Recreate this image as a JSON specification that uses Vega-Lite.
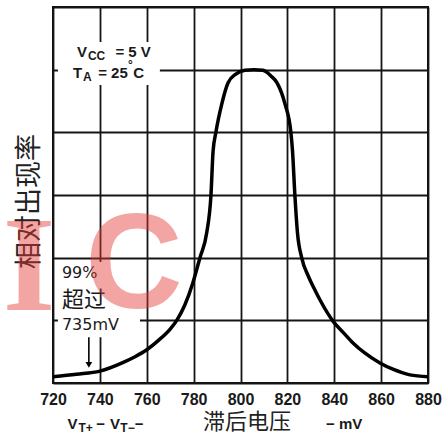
{
  "$schema": "https://vega.github.io/schema/vega-lite/v6.json",
  "width": 375,
  "height": 376,
  "autosize": "none",
  "padding": {"left": 53, "top": 7, "right": 18, "bottom": 53},
  "background": "white",
  "config": {
    "view": {"stroke": "#111111", "strokeWidth": 2},
    "axis": {"grid": true, "gridColor": "#151515", "gridWidth": 1.8, "gridOpacity": 1, "domain": false, "ticks": false}
  },
  "datasets": {
    "curve": [
      {"x": 720, "y": 0.10}, {"x": 730, "y": 0.14}, {"x": 740, "y": 0.19}, {"x": 750, "y": 0.33},
      {"x": 755, "y": 0.42}, {"x": 760, "y": 0.53}, {"x": 765, "y": 0.68}, {"x": 770, "y": 0.86},
      {"x": 772.8, "y": 1.0}, {"x": 776.2, "y": 1.24}, {"x": 779.7, "y": 1.6}, {"x": 782.7, "y": 2.0},
      {"x": 785.6, "y": 2.4}, {"x": 787.4, "y": 3.0}, {"x": 788.3, "y": 3.7}, {"x": 789.5, "y": 4.0},
      {"x": 792, "y": 4.45}, {"x": 794.7, "y": 4.79}, {"x": 798, "y": 4.93}, {"x": 801.9, "y": 4.99},
      {"x": 805.7, "y": 5.0}, {"x": 809.6, "y": 4.99}, {"x": 813, "y": 4.9}, {"x": 815.6, "y": 4.79},
      {"x": 819, "y": 4.45}, {"x": 821.5, "y": 4.0}, {"x": 822.2, "y": 3.7}, {"x": 823.2, "y": 3.0},
      {"x": 824.3, "y": 2.4}, {"x": 826.1, "y": 2.0}, {"x": 829, "y": 1.7}, {"x": 831.8, "y": 1.48},
      {"x": 834, "y": 1.32}, {"x": 839.6, "y": 0.98}, {"x": 844, "y": 0.8}, {"x": 848, "y": 0.64},
      {"x": 853, "y": 0.48}, {"x": 859.5, "y": 0.32}, {"x": 865, "y": 0.22}, {"x": 872.3, "y": 0.13},
      {"x": 880, "y": 0.10}
    ],
    "boxes": [
      {"x": 722.1, "x2": 765.6, "y": 4.755, "y2": 5.44},
      {"x": 722.1, "x2": 757.1, "y": 0.73, "y2": 1.93}
    ],
    "arrow": [{"x": 735.3, "y": 0.73, "y2": 0.3}],
    "arrowhead": [{"x": 735.3, "y": 0.29}],
    "mainText": [
      {"x": 728.3, "y": -0.66, "t": "V"}, {"x": 740.3, "y": -0.66, "t": "−"},
      {"x": 746.5, "y": -0.66, "t": "V"}, {"x": 756.7, "y": -0.66, "t": "−"},
      {"x": 844.2, "y": -0.66, "t": "− mV"},
      {"x": 732.4, "y": 5.28, "t": "V"}, {"x": 754.2, "y": 5.28, "t": "= 5 V"},
      {"x": 730.5, "y": 4.95, "t": "T"}, {"x": 745.6, "y": 4.95, "t": "= 25"},
      {"x": 756.6, "y": 4.95, "t": "C"}
    ],
    "subText": [
      {"x": 733.9, "y": -0.72, "t": "T+"}, {"x": 751.8, "y": -0.72, "t": "T−"},
      {"x": 738.6, "y": 5.22, "t": "CC"}, {"x": 734.6, "y": 4.89, "t": "A"},
      {"x": 753.0, "y": 5.07, "t": "°"}
    ],
    "cnTitle": [{"x": 802.8, "y": -0.62, "t": "滞后电压"}],
    "note": [
      {"x": 723.8, "y": 1.763, "t": "99%"},
      {"x": 723.8, "y": 0.933, "t": "735mV"}
    ],
    "noteCn": [{"x": 723.8, "y": 1.324, "t": "超过"}],
    "markI": [{"x": 709.8, "y": 1.16, "t": "I"}],
    "markC": [{"x": 754.6, "y": 1.2, "t": "C"}]
  },
  "encoding": {
    "x": {
      "field": "x", "type": "quantitative",
      "scale": {"domain": [720, 880], "nice": false, "zero": false},
      "axis": {
        "values": [720, 740, 760, 780, 800, 820, 840, 860, 880],
        "title": null, "labelFont": "Liberation Sans", "labelFontWeight": "bold",
        "labelFontSize": 16, "labelColor": "#1a1a1a", "labelPadding": 8,
        "labelFlush": false, "labelOverlap": false
      }
    },
    "y": {
      "field": "y", "type": "quantitative",
      "scale": {"domain": [0, 6], "nice": false, "zero": false},
      "axis": {
        "values": [0, 1, 2, 3, 4, 5, 6], "labels": false,
        "title": "相对出现率", "titleFont": "Noto Sans CJK SC", "titleFontSize": 27,
        "titleFontWeight": "normal", "titleColor": "#222222",
        "titleX": -24, "titleY": 194, "titleAngle": -90,
        "titleAlign": "center", "titleBaseline": "middle"
      }
    }
  },
  "layer": [
    {
      "data": {"name": "boxes"},
      "mark": {"type": "rect", "fill": "white", "stroke": null},
      "encoding": {"x2": {"field": "x2"}, "y2": {"field": "y2"}}
    },
    {
      "data": {"name": "curve"},
      "mark": {"type": "line", "color": "#000000", "strokeWidth": 3.5, "interpolate": "monotone"}
    },
    {
      "data": {"name": "arrow"},
      "mark": {"type": "rule", "color": "#000000", "strokeWidth": 1.6},
      "encoding": {"y2": {"field": "y2"}}
    },
    {
      "data": {"name": "arrowhead"},
      "mark": {"type": "point", "shape": "triangle-down", "filled": true, "color": "#000000", "size": 45, "opacity": 1}
    },
    {
      "data": {"name": "mainText"},
      "mark": {"type": "text", "font": "Liberation Sans", "fontWeight": "bold", "fontSize": 15, "color": "#1a1a1a", "align": "center", "baseline": "middle"},
      "encoding": {"text": {"field": "t"}}
    },
    {
      "data": {"name": "subText"},
      "mark": {"type": "text", "font": "Liberation Sans", "fontWeight": "bold", "fontSize": 12, "color": "#1a1a1a", "align": "center", "baseline": "middle"},
      "encoding": {"text": {"field": "t"}}
    },
    {
      "data": {"name": "cnTitle"},
      "mark": {"type": "text", "font": "Noto Sans CJK SC", "fontSize": 22, "color": "#222222", "align": "center", "baseline": "middle"},
      "encoding": {"text": {"field": "t"}}
    },
    {
      "data": {"name": "note"},
      "mark": {"type": "text", "font": "DejaVu Sans", "fontSize": 16, "color": "#1a1a1a", "align": "left", "baseline": "middle"},
      "encoding": {"text": {"field": "t"}}
    },
    {
      "data": {"name": "noteCn"},
      "mark": {"type": "text", "font": "Noto Sans CJK SC", "fontSize": 22, "color": "#1a1a1a", "align": "left", "baseline": "middle"},
      "encoding": {"text": {"field": "t"}}
    },
    {
      "data": {"name": "markI"},
      "mark": {"type": "text", "font": "Liberation Serif", "fontWeight": "bold", "fontSize": 135, "color": "#e53935", "opacity": 0.45, "align": "center", "baseline": "alphabetic"},
      "encoding": {"text": {"field": "t"}}
    },
    {
      "data": {"name": "markC"},
      "mark": {"type": "text", "font": "Liberation Sans", "fontWeight": "bold", "fontSize": 135, "color": "#e53935", "opacity": 0.45, "align": "center", "baseline": "alphabetic"},
      "encoding": {"text": {"field": "t"}}
    }
  ]
}
